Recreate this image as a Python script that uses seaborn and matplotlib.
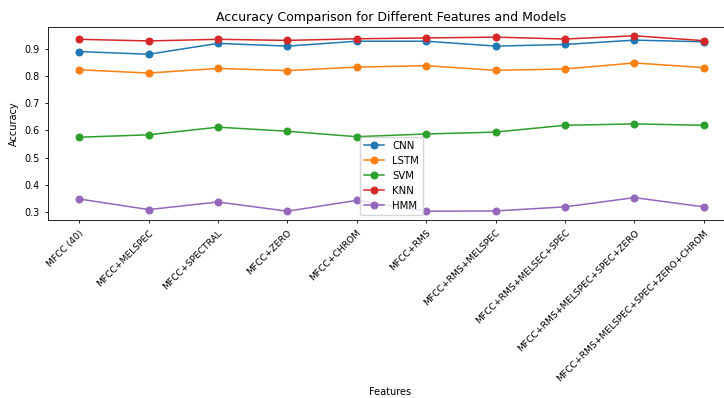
import pandas as pd
import seaborn as sns
import matplotlib
matplotlib.use('Agg')
import matplotlib.pyplot as plt

features = ['MFCC (40)', 'MFCC+MELSPEC', 'MFCC+SPECTRAL', 'MFCC+ZERO', 'MFCC+CHROM',
            'MFCC+RMS', 'MFCC+RMS+MELSPEC', 'MFCC+RMS+MELSEC+SPEC',
            'MFCC+RMS+MELSPEC+SPEC+ZERO', 'MFCC+RMS+MELSPEC+SPEC+ZERO+CHROM']
models = ['CNN', 'LSTM', 'SVM', 'KNN', 'HMM']

cnn = [0.890, 0.880, 0.920, 0.910, 0.928, 0.928, 0.910, 0.916, 0.932, 0.926]
lstm = [0.823, 0.811, 0.828, 0.820, 0.833, 0.838, 0.821, 0.826, 0.848, 0.831]
svm = [0.575, 0.584, 0.612, 0.597, 0.577, 0.587, 0.594, 0.619, 0.624, 0.619]
knn = [0.935, 0.929, 0.935, 0.931, 0.937, 0.940, 0.943, 0.936, 0.948, 0.930]
hmm = [0.348, 0.309, 0.337, 0.303, 0.343, 0.303, 0.304, 0.319, 0.353, 0.319]

scores = {'CNN': cnn, 'LSTM': lstm, 'SVM': svm, 'KNN': knn, 'HMM': hmm}
rows = []
for m in models:
    for f, v in zip(features, scores[m]):
        rows.append({'Features': f, 'Accuracy': v, 'Model': m})
df = pd.DataFrame(rows)

fig = plt.figure(figsize=(7.24, 3.98), dpi=100)
ax = fig.add_axes([48 / 724, 1 - 220 / 398, (735 - 48) / 724, 193 / 398])

sns.lineplot(data=df, x='Features', y='Accuracy', hue='Model', marker='o',
             palette='tab10', sort=False, linewidth=1.1, markersize=5,
             ax=ax)

# same-colour marker edges like plain matplotlib
for line in ax.lines:
    line.set_markeredgecolor(line.get_color())

sns.move_legend(ax, 'lower center', title=None, fontsize=7.3)
for h in ax.get_legend().legend_handles:
    h.set_markeredgecolor(h.get_color())

ax.set_title('Accuracy Comparison for Different Features and Models', fontsize=9, pad=4)
ax.set_xlabel('Features', fontsize=7)
ax.set_ylabel('Accuracy', fontsize=7)
ax.xaxis.set_label_coords((390 - 48) / 687, -(387 - 220) / 193)
plt.xticks(rotation=45, ha='right', rotation_mode='anchor')
ax.tick_params(axis='y', labelsize=7)
ax.tick_params(axis='x', labelsize=6.6)
ax.tick_params(length=2.5, width=0.6)
for s in ax.spines.values():
    s.set_linewidth(0.6)

fig.savefig('out.png', dpi=100)
